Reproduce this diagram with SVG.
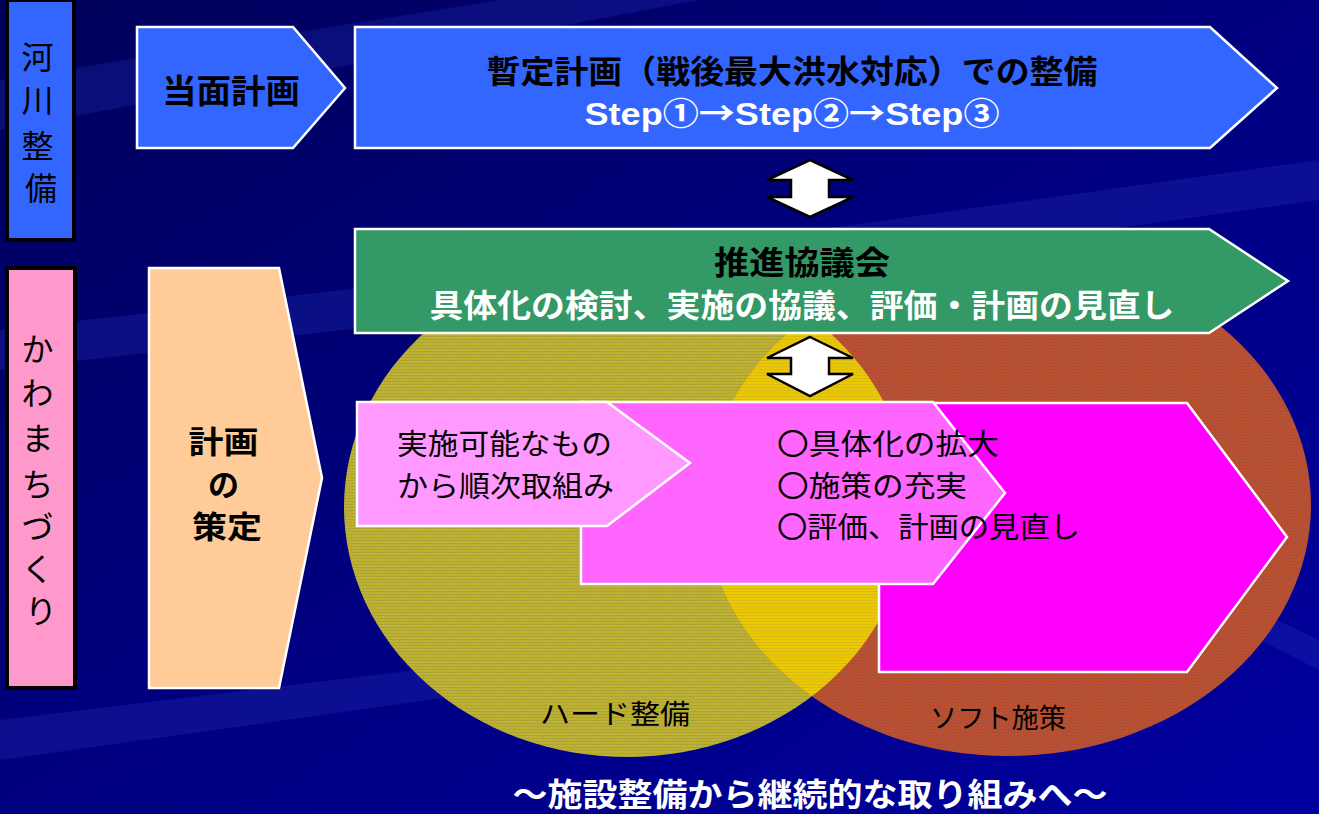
<svg xmlns="http://www.w3.org/2000/svg" width="1319" height="814" viewBox="0 0 1319 814">
<style>
.jp{font-family:"Noto Sans CJK JP","Liberation Sans",sans-serif;}
.lat{font-family:"Liberation Sans","Noto Sans CJK JP",sans-serif;}
.b{font-weight:bold;}
.blk{fill:#000;}
.wht{fill:#fff;}
.arrowW{stroke:#fff;stroke-width:2.5;stroke-linejoin:miter;}
.side{stroke:#000;stroke-width:4;}
.dbl{fill:#fff;stroke:#000;stroke-width:2.5;stroke-linejoin:miter;}
</style>
<defs>
<linearGradient id="bg" x1="0" y1="0" x2="1" y2="1">
<stop offset="0" stop-color="#00005A"/>
<stop offset="0.5" stop-color="#000080"/>
<stop offset="1" stop-color="#0000A0"/>
</linearGradient>
<pattern id="hy" width="3" height="3" patternUnits="userSpaceOnUse">
<rect width="3" height="3" fill="#C2B52C"/>
<rect width="3" height="1" fill="#A8A040"/>
<rect width="1" height="3" fill="#B3AA38"/>
</pattern>
<pattern id="ho" width="3" height="3" patternUnits="userSpaceOnUse">
<rect width="3" height="3" fill="#C0502A"/>
<rect width="3" height="1" fill="#A85040"/>
<rect width="1" height="3" fill="#B04E38"/>
</pattern>
<pattern id="hx" width="3" height="3" patternUnits="userSpaceOnUse">
<rect width="3" height="3" fill="#ECC800"/>
<rect width="3" height="1" fill="#D8BA18"/>
</pattern>
<clipPath id="clipY"><ellipse cx="627" cy="507" rx="283" ry="250"/></clipPath>
</defs>

<rect width="1319" height="814" fill="url(#bg)"/>
<g id="streaks" fill="#2A3AC0" opacity="0.25">
<polygon points="0,330 600,260 1319,160 1319,200 600,300 0,370"/>
<polygon points="0,80 500,0 700,0 0,130"/>
<polygon points="1150,560 1319,640 1319,670 1150,585"/>
<polygon points="0,720 500,660 500,690 0,760"/>
</g>

<g id="venn">
<ellipse cx="627" cy="507" rx="283" ry="250" fill="url(#hy)"/>
<ellipse cx="1008" cy="505" rx="303" ry="251" fill="url(#ho)"/>
<ellipse cx="1008" cy="505" rx="303" ry="251" fill="url(#hx)" clip-path="url(#clipY)"/>
<text class="jp blk" x="615" y="724" font-size="27" text-anchor="middle" textLength="150" lengthAdjust="spacingAndGlyphs">ハード整備</text>
<text class="jp blk" x="998" y="728" font-size="27" text-anchor="middle" textLength="136" lengthAdjust="spacingAndGlyphs">ソフト施策</text>
</g>

<g id="kasen">
<rect class="side" x="7" y="0" width="67" height="240" fill="#3366FF"/>
<text class="jp blk" font-size="32" text-anchor="middle">
<tspan x="41" y="69">河</tspan>
<tspan x="41" y="112">川</tspan>
<tspan x="41" y="158">整</tspan>
<tspan x="41" y="200">備</tspan>
</text>
</g>

<g id="kawamachi">
<rect class="side" x="7" y="268" width="68" height="420" fill="#FF99CC"/>
<text class="jp blk" font-size="32" text-anchor="middle">
<tspan x="41" y="361">か</tspan>
<tspan x="41" y="405">わ</tspan>
<tspan x="41" y="450">ま</tspan>
<tspan x="41" y="496">ち</tspan>
<tspan x="41" y="539">づ</tspan>
<tspan x="41" y="581">く</tspan>
<tspan x="41" y="623">り</tspan>
</text>
</g>

<g id="toumen">
<polygon class="arrowW" points="137,27 293,27 345,88 293,148 137,148" fill="#3366FF"/>
<text class="jp b blk" x="231" y="103" font-size="33" text-anchor="middle" textLength="138" lengthAdjust="spacingAndGlyphs">当面計画</text>
</g>

<g id="zantei">
<polygon class="arrowW" points="355,27 1210,27 1277,88 1210,148 355,148" fill="#3366FF"/>
<text class="lat b blk" x="792" y="83" font-size="32" text-anchor="middle" textLength="611" lengthAdjust="spacingAndGlyphs">暫定計画（戦後最大洪水対応）での整備</text>
<text class="lat b wht" x="792" y="125" font-size="32" text-anchor="middle" textLength="415" lengthAdjust="spacingAndGlyphs">Step①<tspan class="jp">→</tspan>Step②<tspan class="jp">→</tspan>Step③</text>
</g>

<g id="keikaku">
<polygon class="arrowW" points="149,268 279,268 322,478 279,688 149,688" fill="#FFCC99"/>
<text class="jp b blk" font-size="31" text-anchor="middle">
<tspan x="227" y="453" textLength="70" lengthAdjust="spacingAndGlyphs">計画</tspan>
<tspan x="227" y="496">の</tspan>
<tspan x="227" y="538" textLength="70" lengthAdjust="spacingAndGlyphs">策定</tspan>
</text>
</g>

<g id="suishin">
<polygon class="arrowW" points="355,229 1209,229 1288,281 1209,333 355,333" fill="#339966"/>
<text class="jp b blk" x="802" y="274" font-size="32" text-anchor="middle" textLength="176" lengthAdjust="spacingAndGlyphs">推進協議会</text>
<text class="jp b wht" x="802" y="317" font-size="32" text-anchor="middle" textLength="745" lengthAdjust="spacingAndGlyphs">具体化の検討、実施の協議、評価・計画の見直し</text>
</g>

<g id="connectors">
<polygon class="dbl" points="810,160 853,180 829,180 829,197 853,197 810,217 767,197 791,197 791,180 767,180"/>
<polygon class="dbl" points="810,337 853,358 829,358 829,374 853,374 810,396 767,374 791,374 791,358 767,358"/>
</g>

<g id="soft">
<polygon class="arrowW" points="879,403 1187,403 1287,537 1187,672 879,672" fill="#FF00FF"/>
</g>
<g id="kakudai">
<polygon class="arrowW" points="581,402 933,402 1005,493 933,584 581,584" fill="#FF66FF"/>
</g>
<g id="jisshi">
<polygon class="arrowW" points="357,402 607,402 690,463 607,526 357,526" fill="#FF99FF"/>
<text class="jp blk" font-size="29">
<tspan x="397" y="455" textLength="215" lengthAdjust="spacingAndGlyphs">実施可能なもの</tspan>
<tspan x="397" y="497" textLength="217" lengthAdjust="spacingAndGlyphs">から順次取組み</tspan>
</text>
</g>
<g id="kakudai-text">
<text class="jp blk" font-size="29">
<tspan x="777" y="455" textLength="222" lengthAdjust="spacingAndGlyphs">〇具体化の拡大</tspan>
<tspan x="777" y="497" textLength="190" lengthAdjust="spacingAndGlyphs">〇施策の充実</tspan>
<tspan x="777" y="538" textLength="303" lengthAdjust="spacingAndGlyphs">〇評価、計画の見直し</tspan>
</text>
</g>

<g id="footer">
<text class="jp b wht" x="810" y="806" font-size="32" text-anchor="middle" textLength="595" lengthAdjust="spacingAndGlyphs">～施設整備から継続的な取り組みへ～</text>
</g>
</svg>
